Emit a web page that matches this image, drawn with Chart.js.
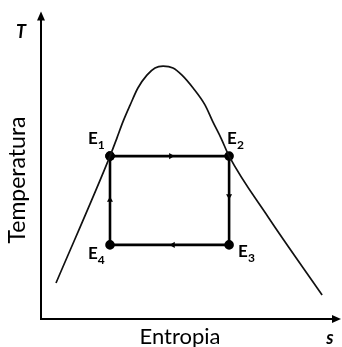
<!DOCTYPE html>
<html><head><meta charset="utf-8">
<script src="https://cdn.jsdelivr.net/npm/chart.js@4"></script>
<style>html,body{margin:0;padding:0;background:#fff;overflow:hidden}canvas{display:block}</style>
</head><body><canvas id="c" width="342" height="347"></canvas>
<script>
// Saturation dome (entropy s, temperature T) in arbitrary units
const domeS = [0.5, 2.3, 2.53, 2.73, 2.97, 3.23, 3.53, 3.8, 4.07, 4.4, 4.7, 5.07, 5.47, 5.73, 6.0, 6.27, 7.57, 9.37];
const domeT = [1.2, 5.43, 6.03, 6.57, 7.13, 7.7, 8.13, 8.37, 8.43, 8.37, 8.13, 7.7, 7.13, 6.57, 6.03, 5.43, 3.4, 0.8];
// Cycle states E1..E4
const stateNames = ['1', '2', '3', '4'];
const stateS = [2.3, 6.27, 6.27, 2.3];
const stateT = [5.43, 5.43, 2.47, 2.47];
// Direction markers on each leg
const arrowS = [4.33, 6.27, 4.4, 2.3];
const arrowT = [5.43, 4.1, 2.47, 3.97];
const arrowDir = [90, 180, 270, 0];
const axisTitles = {x: 'Entropia', y: 'Temperatura', xs: 's', ys: 'T'};

const FONT = 'Lato, "Open Sans", sans-serif';
const dome = domeS.map((s, i) => ({x: s, y: domeT[i]}));
const cyc = stateS.map((s, i) => ({x: s, y: stateT[i]}));
cyc.push(cyc[0]);
const arrows = arrowS.map((s, i) => ({x: s, y: arrowT[i]}));

const deco = {
  id: 'deco',
  afterDatasetsDraw(chart) {
    const ctx = chart.ctx, xs = chart.scales.x, ys = chart.scales.y;
    const x0 = xs.getPixelForValue(0), y0 = ys.getPixelForValue(0);
    const xEnd = xs.getPixelForValue(xs.max), yEnd = ys.getPixelForValue(ys.max);
    ctx.save();
    ctx.strokeStyle = '#000'; ctx.fillStyle = '#000'; ctx.lineWidth = 2;
    ctx.beginPath(); ctx.moveTo(x0, y0); ctx.lineTo(x0, yEnd + 6); ctx.stroke();
    ctx.beginPath(); ctx.moveTo(x0 - 4, yEnd + 9); ctx.lineTo(x0, yEnd); ctx.lineTo(x0 + 4, yEnd + 9); ctx.closePath(); ctx.fill();
    ctx.beginPath(); ctx.moveTo(x0 - 1, y0); ctx.lineTo(xEnd - 6, y0); ctx.stroke();
    ctx.beginPath(); ctx.moveTo(xEnd - 9, y0 - 4); ctx.lineTo(xEnd, y0); ctx.lineTo(xEnd - 9, y0 + 4); ctx.closePath(); ctx.fill();

    ctx.textAlign = 'center'; ctx.textBaseline = 'alphabetic';
    ctx.font = 'italic bold 18px ' + FONT;
    ctx.fillText(axisTitles.ys, 21, 38);
    ctx.fillText(axisTitles.xs, 330, 344);
    ctx.font = '22px ' + FONT;
    ctx.fillText(axisTitles.x, 180, 344);
    ctx.save(); ctx.translate(25, 180); ctx.rotate(-Math.PI / 2);
    ctx.font = '23px ' + FONT;
    ctx.fillText(axisTitles.y, 0, 0); ctx.restore();

    // state labels
    const offs = [[-22, -16], [-2, -16], [9, 8], [-22, 10]];
    ctx.textAlign = 'left'; ctx.textBaseline = 'alphabetic';
    stateNames.forEach((n, i) => {
      const px = xs.getPixelForValue(stateS[i]) + offs[i][0];
      const py = ys.getPixelForValue(stateT[i]) + offs[i][1];
      ctx.font = 'bold 17px ' + FONT;
      ctx.fillText('E', px, py + 4);
      const w = ctx.measureText('E').width;
      ctx.font = 'bold 12px ' + FONT;
      ctx.fillText(n, px + w, py + 9);
    });
    ctx.restore();
  }
};

new Chart(document.getElementById('c'), {
  type: 'scatter',
  data: {datasets: [
    {data: dome, showLine: true, borderColor: '#111', borderWidth: 1.7, pointRadius: 0, cubicInterpolationMode: 'monotone'},
    {data: cyc, showLine: true, borderColor: '#000', borderWidth: 2.6, pointRadius: 3.5, pointBackgroundColor: '#000', pointBorderColor: '#000', tension: 0},
    {data: arrows, showLine: false, pointStyle: 'triangle', pointRadius: 3.5, pointRotation: arrowDir, pointBackgroundColor: '#000', pointBorderColor: '#000', pointBorderWidth: 0}
  ]},
  options: {
    responsive: false, animation: false, devicePixelRatio: 1,
    layout: {autoPadding: false, padding: {left: 41, right: 1, top: 11.5, bottom: 28}},
    plugins: {legend: {display: false}, tooltip: {enabled: false}},
    scales: {
      x: {type: 'linear', min: 0, max: 10, display: false},
      y: {type: 'linear', min: 0, max: 10.25, display: false}
    }
  },
  plugins: [deco]
});
</script></body></html>
